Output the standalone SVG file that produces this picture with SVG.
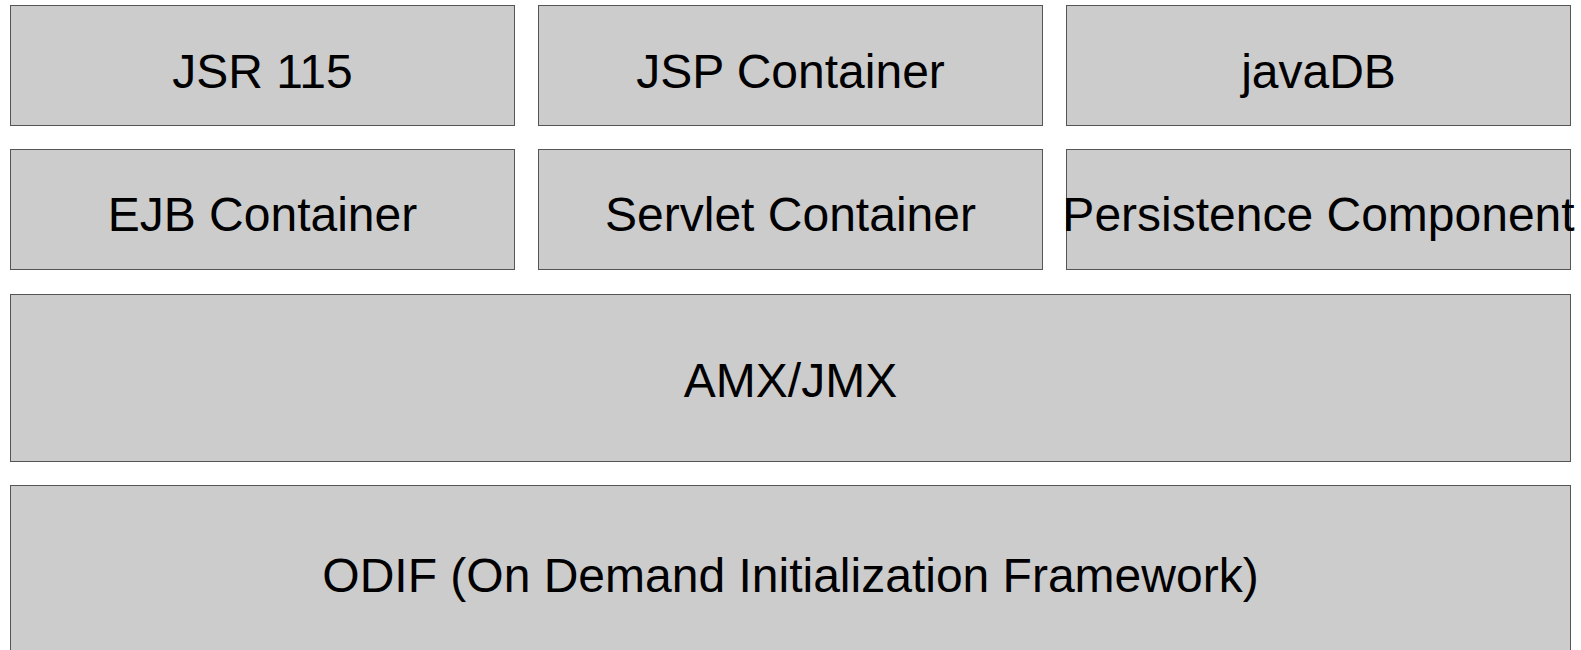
<svg xmlns="http://www.w3.org/2000/svg" width="1581" height="650" viewBox="0 0 1581 650">
<style>
.box{fill:#cccccc;stroke:#555555;stroke-width:1}
.lbl{font-family:"Liberation Sans",Arial,sans-serif;font-size:48px;fill:#000000;text-anchor:middle}
</style>
<rect x="0" y="0" width="1581" height="650" fill="#ffffff"/>
<g id="jsr115"><rect class="box" x="10.5" y="5.5" width="504" height="120"/><text class="lbl" x="262.5" y="87.5">JSR 115</text></g>
<g id="jsp"><rect class="box" x="538.5" y="5.5" width="504" height="120"/><text class="lbl" x="790.5" y="87.5">JSP Container</text></g>
<g id="javadb"><rect class="box" x="1066.5" y="5.5" width="504" height="120"/><text class="lbl" x="1318.5" y="87.5">javaDB</text></g>
<g id="ejb"><rect class="box" x="10.5" y="149.5" width="504" height="120"/><text class="lbl" x="262.5" y="231">EJB Container</text></g>
<g id="servlet"><rect class="box" x="538.5" y="149.5" width="504" height="120"/><text class="lbl" x="790.5" y="231">Servlet Container</text></g>
<g id="persistence"><rect class="box" x="1066.5" y="149.5" width="504" height="120"/><text class="lbl" x="1318.5" y="231">Persistence Component</text></g>
<g id="amx"><rect class="box" x="10.5" y="294.5" width="1560" height="167"/><text class="lbl" x="790.5" y="397">AMX/JMX</text></g>
<g id="odif"><rect class="box" x="10.5" y="485.5" width="1560" height="180"/><text class="lbl" x="790.5" y="592">ODIF (On Demand Initialization Framework)</text></g>
<g id="connectors"></g>
</svg>
